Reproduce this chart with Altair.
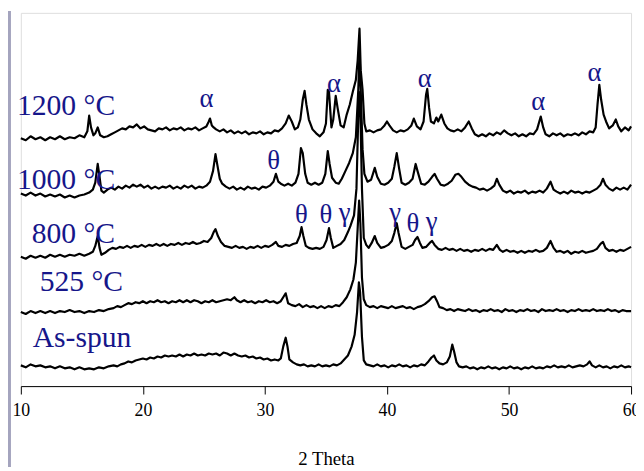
import altair as alt
import pandas as pd

# ---- data: stacked XRD patterns (2 theta, offset intensity, a.u.) ----
t1200 = [(10.0, 251), (10.4, 249), (10.8, 253), (11.2, 250), (11.6, 252), (12.0, 249), (12.4, 252), (12.8, 250),
         (13.2, 253), (13.6, 250), (14.0, 252), (14.4, 251), (14.8, 254), (15.2, 252), (15.45, 258), (15.6, 274),
         (15.75, 262), (15.95, 254), (16.1, 256), (16.3, 262), (16.5, 254), (16.8, 252), (17.1, 253), (17.4, 255),
         (17.7, 257), (18.0, 259), (18.3, 261), (18.6, 260), (18.9, 263), (19.2, 262), (19.5, 265), (19.8, 261),
         (20.1, 263), (20.4, 260), (20.7, 259), (21.0, 258), (21.3, 261), (21.6, 260), (21.9, 262), (22.2, 259),
         (22.5, 261), (22.8, 260), (23.1, 262), (23.4, 259), (23.7, 261), (24.0, 260), (24.3, 262), (24.6, 259),
         (24.9, 261), (25.2, 263), (25.4, 268), (25.5, 271), (25.65, 264), (25.8, 262), (26.0, 260), (26.3, 258),
         (26.6, 260), (26.9, 257), (27.2, 259), (27.5, 256), (27.8, 258), (28.1, 256), (28.4, 258), (28.7, 255),
         (29.0, 257), (29.3, 256), (29.6, 258), (29.9, 255), (30.2, 257), (30.5, 256), (30.8, 259), (31.1, 258),
         (31.4, 261), (31.7, 266), (31.95, 274), (32.2, 268), (32.45, 260), (32.7, 262), (32.9, 270), (33.1, 290),
         (33.25, 299), (33.4, 285), (33.6, 270), (33.9, 260), (34.2, 256), (34.5, 253), (34.8, 257), (35.0, 266),
         (35.15, 300), (35.25, 298), (35.45, 262), (35.6, 270), (35.8, 294), (35.95, 282), (36.2, 264), (36.45, 262),
         (36.7, 275), (36.95, 285), (37.2, 298), (37.45, 310), (37.6, 330), (37.75, 362), (37.85, 320), (38.0, 300),
         (38.15, 266), (38.3, 258), (38.6, 259), (38.9, 257), (39.2, 259), (39.5, 260), (39.8, 264), (40.0, 268),
         (40.2, 264), (40.5, 259), (40.8, 257), (41.1, 259), (41.4, 258), (41.7, 260), (42.0, 264), (42.2, 271),
         (42.45, 263), (42.75, 260), (43.0, 268), (43.2, 295), (43.3, 301), (43.45, 282), (43.6, 268), (43.85, 266),
         (44.05, 272), (44.2, 268), (44.45, 275), (44.7, 266), (44.95, 261), (45.2, 259), (45.5, 258), (45.8, 260),
         (46.1, 258), (46.4, 262), (46.7, 268), (46.95, 261), (47.2, 255), (47.5, 253), (47.8, 255), (48.1, 253),
         (48.4, 256), (48.7, 254), (49.0, 257), (49.3, 255), (49.6, 259), (49.9, 256), (50.2, 254), (50.5, 256),
         (50.8, 253), (51.1, 255), (51.4, 253), (51.7, 256), (52.0, 255), (52.3, 260), (52.6, 273), (52.8, 262),
         (53.0, 255), (53.3, 253), (53.6, 256), (53.9, 254), (54.2, 256), (54.5, 253), (54.8, 255), (55.1, 254),
         (55.4, 256), (55.7, 254), (56.0, 257), (56.3, 255), (56.6, 258), (56.9, 257), (57.1, 262), (57.25, 285),
         (57.4, 305), (57.55, 290), (57.75, 275), (57.95, 268), (58.2, 261), (58.5, 264), (58.75, 270), (58.95, 263),
         (59.2, 258), (59.5, 262), (59.8, 259), (60.0, 263)]

t1000 = [(10.0, 195), (10.4, 193), (10.8, 196), (11.2, 193), (11.6, 195), (12.0, 192), (12.4, 194), (12.8, 192),
         (13.2, 194), (13.6, 191), (14.0, 193), (14.4, 191), (14.8, 193), (15.2, 194), (15.6, 196), (15.9, 199),
         (16.1, 206), (16.3, 225), (16.45, 212), (16.6, 198), (16.8, 196), (17.1, 199), (17.4, 201), (17.7, 199),
         (18.0, 202), (18.3, 200), (18.6, 203), (18.9, 201), (19.2, 204), (19.5, 202), (19.8, 204), (20.1, 201),
         (20.4, 203), (20.7, 200), (21.0, 202), (21.3, 200), (21.6, 202), (21.9, 201), (22.2, 203), (22.5, 200),
         (22.8, 202), (23.1, 200), (23.4, 203), (23.7, 201), (24.0, 203), (24.3, 200), (24.6, 202), (24.9, 201),
         (25.2, 203), (25.5, 207), (25.75, 218), (25.95, 235), (26.1, 224), (26.3, 210), (26.5, 205), (26.8, 202),
         (27.1, 200), (27.4, 202), (27.7, 199), (28.0, 201), (28.3, 199), (28.6, 202), (28.9, 200), (29.2, 201),
         (29.5, 199), (29.8, 202), (30.1, 201), (30.4, 203), (30.7, 207), (30.9, 215), (31.1, 207), (31.3, 205),
         (31.6, 203), (31.9, 205), (32.2, 203), (32.5, 206), (32.75, 215), (32.95, 241), (33.1, 236), (33.3, 215),
         (33.5, 206), (33.8, 204), (34.1, 206), (34.4, 204), (34.7, 206), (34.95, 215), (35.15, 238), (35.3, 225),
         (35.5, 211), (35.8, 206), (36.05, 205), (36.3, 210), (36.6, 218), (36.9, 226), (37.2, 236), (37.45, 252),
         (37.65, 300), (37.75, 340), (37.85, 300), (38.0, 240), (38.15, 215), (38.4, 207), (38.7, 209), (38.85, 215),
         (39.0, 221), (39.2, 212), (39.5, 205), (39.8, 204), (40.1, 206), (40.4, 210), (40.6, 222), (40.8, 236),
         (41.0, 220), (41.2, 206), (41.5, 204), (41.8, 206), (42.1, 210), (42.35, 225), (42.5, 218), (42.8, 205),
         (43.1, 204), (43.4, 207), (43.7, 212), (43.9, 215), (44.1, 210), (44.4, 204), (44.7, 203), (45.0, 205),
         (45.3, 208), (45.6, 214), (45.85, 215), (46.1, 212), (46.4, 207), (46.7, 204), (47.0, 202), (47.3, 201),
         (47.6, 199), (47.9, 200), (48.2, 198), (48.5, 200), (48.8, 203), (49.0, 210), (49.2, 204), (49.5, 198),
         (49.8, 196), (50.1, 198), (50.4, 195), (50.7, 197), (51.0, 196), (51.3, 198), (51.6, 195), (51.9, 197),
         (52.2, 196), (52.5, 198), (52.8, 196), (53.1, 200), (53.4, 207), (53.65, 199), (53.9, 197), (54.2, 195),
         (54.5, 197), (54.8, 195), (55.1, 198), (55.4, 196), (55.7, 197), (56.0, 195), (56.3, 197), (56.6, 196),
         (56.9, 198), (57.2, 200), (57.5, 204), (57.7, 210), (57.9, 204), (58.2, 200), (58.5, 198), (58.8, 201),
         (59.1, 199), (59.4, 201), (59.7, 199), (60.0, 204)]

t800 = [(10.0, 131), (10.4, 129), (10.8, 132), (11.2, 130), (11.6, 132), (12.0, 130), (12.4, 133), (12.8, 131),
        (13.2, 133), (13.6, 131), (14.0, 133), (14.4, 132), (14.8, 134), (15.2, 132), (15.6, 134), (15.9, 136),
        (16.1, 142), (16.3, 152), (16.45, 140), (16.6, 133), (16.9, 135), (17.2, 138), (17.5, 140), (17.8, 139),
        (18.1, 141), (18.4, 140), (18.7, 142), (19.0, 140), (19.3, 142), (19.6, 141), (19.9, 143), (20.2, 141),
        (20.5, 143), (20.8, 142), (21.1, 144), (21.4, 142), (21.7, 144), (22.0, 142), (22.3, 144), (22.6, 143),
        (22.9, 145), (23.2, 143), (23.5, 145), (23.8, 144), (24.1, 146), (24.4, 144), (24.7, 145), (25.0, 147),
        (25.3, 146), (25.6, 150), (25.8, 156), (25.95, 159), (26.15, 152), (26.4, 146), (26.7, 142), (27.0, 141),
        (27.3, 140), (27.6, 142), (27.9, 140), (28.2, 141), (28.5, 139), (28.8, 141), (29.1, 140), (29.4, 142),
        (29.7, 140), (30.0, 142), (30.3, 141), (30.6, 143), (30.9, 146), (31.1, 142), (31.4, 141), (31.7, 143),
        (32.0, 142), (32.3, 144), (32.6, 145), (32.85, 152), (33.0, 161), (33.15, 152), (33.35, 142), (33.6, 140),
        (33.9, 139), (34.2, 140), (34.5, 139), (34.8, 141), (35.05, 148), (35.25, 160), (35.4, 150), (35.6, 140),
        (35.9, 142), (36.2, 144), (36.5, 148), (36.8, 156), (37.0, 162), (37.3, 173), (37.5, 200), (37.7, 298),
        (37.8, 290), (37.95, 200), (38.1, 150), (38.3, 143), (38.5, 140), (38.75, 145), (39.0, 152), (39.2, 145),
        (39.5, 140), (39.8, 141), (40.1, 143), (40.4, 147), (40.6, 155), (40.8, 165), (40.95, 155), (41.2, 141),
        (41.5, 139), (41.8, 141), (42.1, 143), (42.3, 148), (42.5, 151), (42.7, 145), (42.9, 140), (43.2, 141),
        (43.5, 145), (43.7, 147), (43.9, 143), (44.2, 139), (44.5, 138), (44.8, 140), (45.1, 138), (45.4, 139),
        (45.7, 137), (46.0, 139), (46.3, 137), (46.6, 138), (46.9, 136), (47.2, 138), (47.5, 137), (47.8, 139),
        (48.1, 137), (48.4, 139), (48.7, 138), (49.0, 143), (49.25, 138), (49.5, 136), (49.8, 138), (50.1, 136),
        (50.4, 137), (50.7, 135), (51.0, 137), (51.3, 135), (51.6, 137), (51.9, 136), (52.2, 138), (52.5, 136),
        (52.8, 137), (53.1, 140), (53.4, 147), (53.65, 140), (53.9, 136), (54.2, 137), (54.5, 135), (54.8, 137),
        (55.1, 134), (55.4, 136), (55.7, 135), (56.0, 137), (56.3, 135), (56.6, 136), (56.9, 137), (57.2, 139),
        (57.5, 144), (57.7, 146), (57.9, 140), (58.2, 137), (58.5, 138), (58.8, 136), (59.1, 138), (59.4, 137),
        (59.7, 139), (60.0, 141)]

t525 = [(10.0, 75), (10.4, 73), (10.8, 76), (11.2, 74), (11.6, 76), (12.0, 74), (12.4, 76), (12.8, 74),
        (13.2, 76), (13.6, 75), (14.0, 77), (14.4, 75), (14.8, 76), (15.2, 74), (15.6, 76), (16.0, 75),
        (16.4, 77), (16.8, 76), (17.2, 78), (17.6, 79), (17.9, 81), (18.2, 80), (18.5, 82), (18.8, 84),
        (19.1, 83), (19.4, 85), (19.7, 84), (20.0, 86), (20.3, 84), (20.6, 86), (20.9, 85), (21.2, 87),
        (21.5, 85), (21.8, 86), (22.1, 84), (22.4, 86), (22.7, 85), (23.0, 87), (23.3, 85), (23.6, 87),
        (23.9, 85), (24.2, 87), (24.5, 86), (24.8, 84), (25.1, 86), (25.4, 85), (25.7, 87), (26.0, 85),
        (26.3, 86), (26.6, 87), (26.9, 88), (27.2, 87), (27.5, 90), (27.7, 87), (28.0, 85), (28.3, 87),
        (28.6, 85), (28.9, 86), (29.2, 84), (29.5, 86), (29.8, 85), (30.1, 87), (30.4, 85), (30.7, 86),
        (31.0, 84), (31.3, 86), (31.5, 90), (31.7, 94), (31.9, 84), (32.2, 82), (32.5, 81), (32.8, 83),
        (33.1, 80), (33.4, 82), (33.7, 80), (34.0, 81), (34.3, 79), (34.6, 81), (34.9, 79), (35.2, 81),
        (35.5, 80), (35.8, 82), (36.1, 81), (36.4, 85), (36.7, 90), (37.0, 98), (37.25, 108), (37.45, 125),
        (37.6, 160), (37.72, 188), (37.82, 165), (37.95, 110), (38.1, 88), (38.3, 82), (38.6, 80), (38.9, 81),
        (39.2, 79), (39.5, 81), (39.8, 80), (40.1, 79), (40.4, 81), (40.7, 79), (41.0, 80), (41.3, 81),
        (41.6, 79), (41.9, 80), (42.2, 78), (42.5, 80), (42.8, 81), (43.1, 83), (43.4, 86), (43.7, 90),
        (43.9, 91), (44.1, 86), (44.3, 80), (44.6, 79), (44.9, 77), (45.2, 78), (45.5, 76), (45.8, 78),
        (46.1, 77), (46.4, 76), (46.7, 78), (47.0, 76), (47.3, 77), (47.6, 75), (47.9, 77), (48.2, 76),
        (48.5, 78), (48.8, 76), (49.1, 77), (49.4, 75), (49.7, 78), (50.0, 76), (50.3, 77), (50.6, 75),
        (50.9, 77), (51.2, 76), (51.5, 78), (51.8, 76), (52.1, 77), (52.4, 75), (52.7, 78), (53.0, 76),
        (53.3, 77), (53.6, 76), (53.9, 78), (54.2, 76), (54.5, 77), (54.8, 75), (55.1, 77), (55.4, 76),
        (55.7, 78), (56.0, 76), (56.3, 77), (56.6, 76), (56.9, 78), (57.2, 76), (57.5, 77), (57.8, 76),
        (58.1, 78), (58.4, 76), (58.7, 77), (59.0, 75), (59.3, 77), (59.6, 76), (60.0, 76)]

tasspun = [(10.0, 21), (10.4, 19), (10.8, 22), (11.2, 20), (11.6, 21), (12.0, 19), (12.4, 20), (12.8, 18),
           (13.2, 20), (13.6, 18), (14.0, 19), (14.4, 17), (14.8, 19), (15.2, 17), (15.6, 18), (16.0, 17),
           (16.4, 19), (16.8, 18), (17.2, 20), (17.6, 21), (17.9, 20), (18.2, 22), (18.5, 23), (18.8, 25),
           (19.1, 24), (19.4, 26), (19.7, 27), (20.0, 28), (20.3, 27), (20.6, 29), (20.9, 28), (21.2, 30),
           (21.5, 29), (21.8, 31), (22.1, 30), (22.4, 31), (22.7, 30), (23.0, 32), (23.3, 30), (23.6, 32),
           (23.9, 31), (24.2, 33), (24.5, 31), (24.8, 32), (25.1, 31), (25.4, 33), (25.7, 32), (26.0, 33),
           (26.3, 31), (26.6, 34), (26.9, 33), (27.2, 31), (27.5, 33), (27.8, 31), (28.1, 30), (28.4, 31),
           (28.7, 29), (29.0, 30), (29.3, 28), (29.6, 29), (29.9, 27), (30.2, 28), (30.5, 26), (30.8, 27),
           (31.1, 26), (31.3, 28), (31.5, 40), (31.7, 49), (31.85, 40), (32.0, 27), (32.3, 24), (32.6, 22),
           (32.9, 21), (33.2, 22), (33.5, 20), (33.8, 21), (34.1, 20), (34.4, 22), (34.7, 20), (35.0, 21),
           (35.3, 20), (35.6, 22), (35.9, 21), (36.2, 23), (36.5, 27), (36.8, 31), (37.1, 40), (37.35, 52),
           (37.55, 75), (37.7, 105), (37.8, 95), (37.95, 50), (38.1, 26), (38.3, 22), (38.6, 21), (38.9, 20),
           (39.2, 22), (39.5, 20), (39.8, 21), (40.1, 19), (40.4, 21), (40.7, 20), (41.0, 22), (41.3, 20),
           (41.6, 21), (41.9, 19), (42.2, 21), (42.5, 20), (42.8, 22), (43.1, 21), (43.4, 25), (43.65, 29),
           (43.85, 31), (44.05, 26), (44.3, 23), (44.6, 22), (44.9, 24), (45.15, 30), (45.35, 42), (45.5, 35),
           (45.7, 24), (45.9, 20), (46.2, 19), (46.5, 20), (46.8, 18), (47.1, 19), (47.4, 17), (47.7, 19),
           (48.0, 18), (48.3, 20), (48.6, 18), (48.9, 19), (49.2, 17), (49.5, 19), (49.8, 18), (50.1, 20),
           (50.4, 18), (50.7, 19), (51.0, 17), (51.3, 19), (51.6, 18), (51.9, 20), (52.2, 18), (52.5, 19),
           (52.8, 18), (53.1, 20), (53.4, 19), (53.7, 21), (54.0, 19), (54.3, 20), (54.6, 19), (54.9, 21),
           (55.2, 19), (55.5, 20), (55.8, 21), (56.1, 20), (56.4, 22), (56.6, 25), (56.8, 21), (57.1, 19),
           (57.4, 21), (57.7, 19), (58.0, 20), (58.3, 18), (58.6, 20), (58.9, 19), (59.2, 21), (59.5, 19),
           (59.8, 20), (60.0, 19)]

samples = ["1200 °C", "1000 °C", "800 °C", "525 °C", "As-spun"]
traces = [t1200, t1000, t800, t525, tasspun]

# sample label anchors (2 theta, intensity) - left aligned
sample_label_x = [9.68, 9.68, 10.89, 11.54, 10.97]
sample_label_y = [275, 200, 145, 96, 40]

# phase annotations
phase_text = ["α", "α", "α", "α", "α", "θ", "θ", "θ", "γ", "γ", "θ", "γ"]
phase_x = [25.21, 35.65, 43.09, 52.39, 57.01, 30.71, 32.98, 35.0, 36.54, 40.66, 42.12, 43.66]
phase_y = [283, 298, 303, 280, 309, 220, 165, 165, 167, 167, 156, 158]

x_ticks = [10, 20, 30, 40, 50, 60]

rows = []
for name, tr in zip(samples, traces):
    for tx, ty in tr:
        rows.append({"sample": name, "two_theta": tx, "intensity": ty})
df = pd.DataFrame(rows)

lab_df = pd.DataFrame({"label": samples, "x": sample_label_x, "y": sample_label_y})
ph_df = pd.DataFrame({"label": phase_text, "x": phase_x, "y": phase_y})

NAVY = "#16168a"
FONT = "Liberation Serif"

xscale = alt.Scale(domain=[10, 60], nice=False, zero=False)
yscale = alt.Scale(domain=[0, 378], nice=False, zero=True)

lines = alt.Chart(df).mark_line(color="black", strokeWidth=2.2, strokeJoin="round").encode(
    x=alt.X("two_theta:Q", scale=xscale,
            axis=alt.Axis(values=x_ticks, title="2 Theta", grid=False, domainColor="black",
                          domainWidth=1, tickColor="black", tickSize=8, tickWidth=1,
                          labelFont=FONT, labelFontSize=18, labelColor="black", labelPadding=8,
                          labelFlush=False, labelOverlap=False,
                          titleFont=FONT, titleFontSize=19, titleFontWeight="normal",
                          titleColor="black", titleBaseline="alphabetic", titleY=79)),
    y=alt.Y("intensity:Q", scale=yscale, axis=None),
    detail="sample:N",
)

sample_labels = alt.Chart(lab_df).mark_text(
    align="left", baseline="alphabetic", font=FONT, fontSize=30, color=NAVY
).encode(x=alt.X("x:Q", scale=xscale), y=alt.Y("y:Q", scale=yscale), text="label:N")

phase_labels = alt.Chart(ph_df).mark_text(
    align="center", baseline="alphabetic", font=FONT, fontSize=27, color=NAVY
).encode(x=alt.X("x:Q", scale=xscale), y=alt.Y("y:Q", scale=yscale), text="label:N")

strip = alt.Chart(pd.DataFrame({"s": [0]})).mark_rect(color="#a4a4be").encode(
    x=alt.value(-13), x2=alt.value(-10), y=alt.value(-2), y2=alt.value(460)
)

chart = alt.layer(strip, lines, phase_labels, sample_labels).properties(
    width=618, height=378,
    autosize=alt.AutoSizeParams(type="none"),
    padding={"left": 13, "top": 2, "right": 5, "bottom": 80},
).configure_view(stroke=None).configure(background="white")

chart.save("out.html", embed_options={"renderer": "svg", "actions": False})
